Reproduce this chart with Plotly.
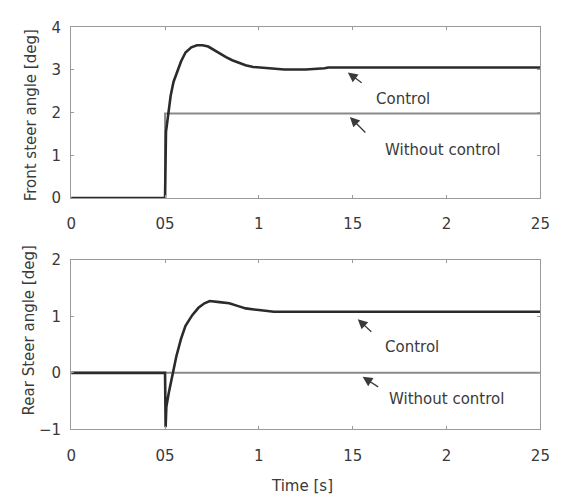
import plotly.graph_objects as go
from plotly.subplots import make_subplots

# Time axis ticks (labels printed without the decimal point)
tick_vals = [0, 0.5, 1.0, 1.5, 2.0, 2.5]
tick_text = ["0", "05", "1", "15", "2", "25"]

# Front steer angle [deg]
front_t_ctrl = [0.0, 0.5, 0.505, 0.53, 0.545, 0.561, 0.585, 0.609, 0.64, 0.67, 0.70, 0.73, 0.76,
                0.79, 0.825, 0.858, 0.895, 0.929, 0.97, 1.03, 1.08, 1.135, 1.25, 1.32, 1.35,
                1.37, 1.5, 2.0, 2.5]
front_ctrl = [0.0, 0.0, 1.55, 2.4, 2.72, 2.92, 3.2, 3.41, 3.53, 3.58, 3.58, 3.55, 3.47,
              3.38, 3.3, 3.23, 3.16, 3.11, 3.07, 3.05, 3.04, 3.01, 3.01, 3.02, 3.04,
              3.06, 3.06, 3.06, 3.06]
front_t_free = [0.0, 0.5, 0.5, 2.5]
front_free = [0.0, 0.0, 1.98, 1.98]

# Rear steer angle [deg]
rear_t_ctrl = [0.0, 0.5, 0.503, 0.507, 0.52, 0.535, 0.56, 0.585, 0.609, 0.645, 0.678, 0.71,
               0.738, 0.79, 0.842, 0.89, 0.93, 1.0, 1.08, 1.5, 2.0, 2.5]
rear_ctrl = [0.0, 0.0, -0.96, -0.6, -0.35, -0.11, 0.29, 0.6, 0.83, 1.02, 1.15, 1.23,
             1.27, 1.25, 1.23, 1.18, 1.14, 1.11, 1.08, 1.08, 1.08, 1.08]
rear_t_free = [0.0, 2.5]
rear_free = [0.0, 0.0]

FONT = "DejaVu Sans"
TXT = "#3a3a3a"
CTRL_COLOR = "#2b2b2b"
FREE_COLOR = "#8a8a8a"
FRAME = "#9a9a9a"

fig = make_subplots(rows=2, cols=1)

fig.add_trace(go.Scatter(x=front_t_free, y=front_free, mode="lines",
                         line=dict(color=FREE_COLOR, width=2), showlegend=False), row=1, col=1)
fig.add_trace(go.Scatter(x=front_t_ctrl, y=front_ctrl, mode="lines",
                         line=dict(color=CTRL_COLOR, width=2.6), showlegend=False), row=1, col=1)
fig.add_trace(go.Scatter(x=rear_t_free, y=rear_free, mode="lines",
                         line=dict(color=FREE_COLOR, width=2), showlegend=False), row=2, col=1)
fig.add_trace(go.Scatter(x=rear_t_ctrl, y=rear_ctrl, mode="lines",
                         line=dict(color=CTRL_COLOR, width=2.6), showlegend=False), row=2, col=1)

axis_common = dict(showgrid=False, zeroline=False, showline=True, linecolor=FRAME,
                   linewidth=1.2, mirror="ticks", ticks="inside", ticklen=3,
                   tickcolor=FRAME, tickfont=dict(family=FONT, size=15, color=TXT))

fig.update_xaxes(range=[0, 2.5], tickvals=tick_vals, ticktext=tick_text,
                 ticklabelstandoff=12, **axis_common)
fig.update_yaxes(ticklabelstandoff=6, **axis_common)
fig.update_yaxes(range=[0, 4], tickvals=[0, 1, 2, 3, 4], row=1, col=1)
fig.update_yaxes(range=[-1, 2], tickvals=[-1, 0, 1, 2], ticktext=["\u22121", "0", "1", "2"],
                 row=2, col=1)

fig.update_layout(
    width=564, height=504,
    margin=dict(l=0, r=0, t=0, b=0),
    paper_bgcolor="white", plot_bgcolor="white",
    xaxis=dict(domain=[0.1206, 0.9752], anchor="y"),
    xaxis2=dict(domain=[0.1206, 0.9752], anchor="y2"),
    yaxis=dict(domain=[0.6111, 0.9623], anchor="x"),
    yaxis2=dict(domain=[0.1349, 0.4841], anchor="x2"),
    font=dict(family=FONT, color=TXT),
)

labels = [
    dict(text="Front steer angle [deg]", x=27 / 564, y=1 - 110 / 504, textangle=-90),
    dict(text="Rear Steer angle [deg]", x=25 / 564, y=1 - 333 / 504, textangle=-90),
    dict(text="Time [s]", x=305 / 564, y=1 - 495 / 504, textangle=0),
]
for lab in labels:
    fig.add_annotation(xref="paper", yref="paper", x=lab["x"], y=lab["y"], text=lab["text"],
                       textangle=lab["textangle"], showarrow=False,
                       xanchor="center", yanchor="middle",
                       font=dict(family=FONT, size=15, color=TXT))

# Callouts: arrow tip just off the curve, text placed below-right
callouts = [
    ("x", "y", 1.474, 2.94, "Control", 409, 93, 367, 78, 351.7, 66.7),
    ("x", "y", 1.485, 1.90, "Without control", 449, 146, 371, 129, 354, 112),
    ("x2", "y2", 1.527, 0.95, "Control", 418, 351, 377, 335, 362, 321),
    ("x2", "y2", 1.553, -0.07, "Without control", 454, 404, 384, 392, 367, 381),
]
for xr, yr, ax_t, ay_v, text, tx, ty, tailx, taily, headx, heady in callouts:
    fig.add_annotation(xref="paper", yref="paper", x=tx / 564, y=1 - ty / 504, text=text,
                       showarrow=False, xanchor="center", yanchor="middle",
                       font=dict(family=FONT, size=15, color=TXT))
    fig.add_annotation(xref=xr, yref=yr, x=ax_t, y=ay_v, ax=tailx - headx, ay=taily - heady,
                       axref="pixel", ayref="pixel", text="", showarrow=True,
                       arrowhead=2, arrowsize=1.5, arrowwidth=1.3, arrowcolor="#3a3a3a",
                       standoff=0)

fig.write_html("out.html")
